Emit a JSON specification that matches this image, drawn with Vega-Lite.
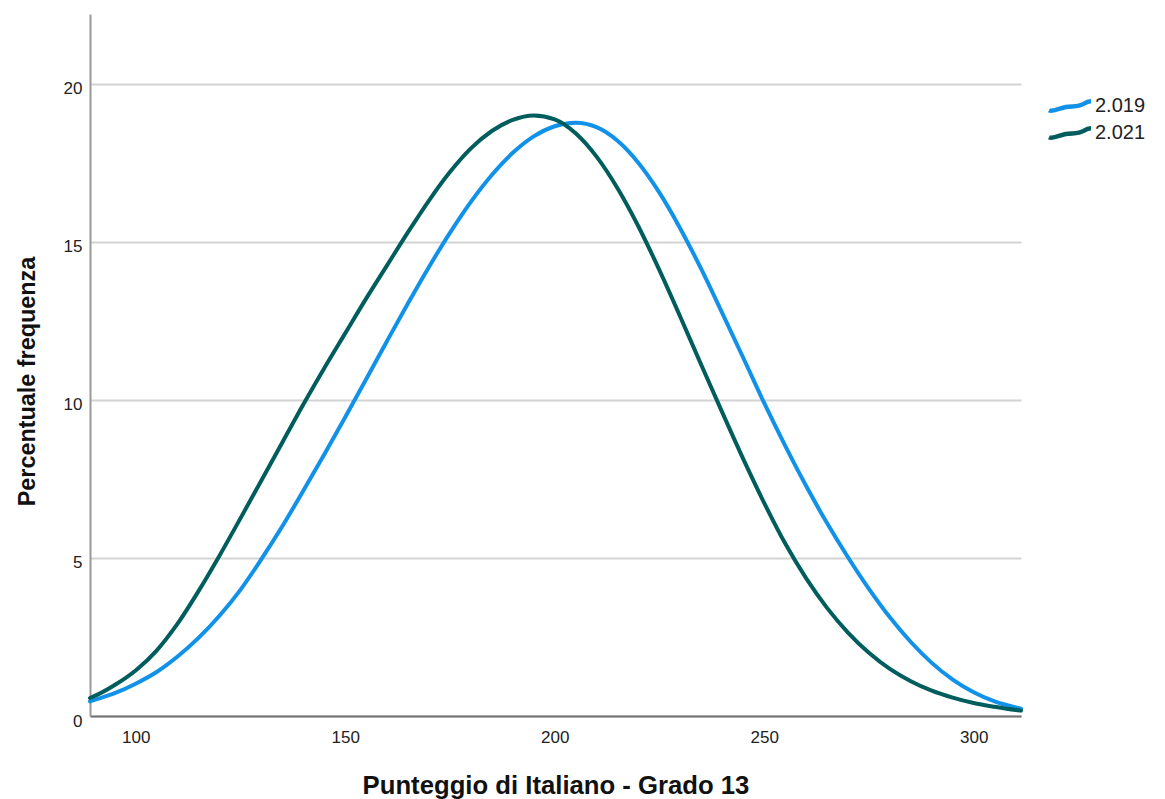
{
  "$schema": "https://vega.github.io/schema/vega-lite/v6.json",
  "width": 931,
  "height": 702,
  "autosize": "none",
  "padding": {"left": 90, "top": 14, "right": 144, "bottom": 83},
  "background": "white",
  "config": {
    "view": {"stroke": null},
    "font": "Liberation Sans"
  },
  "data": {
    "values": [
      {"x": 89.1, "v": 0.46, "year": "2.019"},
      {"x": 90, "v": 0.50, "year": "2.019"},
      {"x": 95, "v": 0.72, "year": "2.019"},
      {"x": 100, "v": 1.02, "year": "2.019"},
      {"x": 105, "v": 1.39, "year": "2.019"},
      {"x": 110, "v": 1.88, "year": "2.019"},
      {"x": 115, "v": 2.47, "year": "2.019"},
      {"x": 120, "v": 3.17, "year": "2.019"},
      {"x": 125, "v": 3.99, "year": "2.019"},
      {"x": 130, "v": 4.96, "year": "2.019"},
      {"x": 135, "v": 6.00, "year": "2.019"},
      {"x": 140, "v": 7.12, "year": "2.019"},
      {"x": 145, "v": 8.27, "year": "2.019"},
      {"x": 150, "v": 9.45, "year": "2.019"},
      {"x": 155, "v": 10.65, "year": "2.019"},
      {"x": 160, "v": 11.86, "year": "2.019"},
      {"x": 165, "v": 13.05, "year": "2.019"},
      {"x": 170, "v": 14.20, "year": "2.019"},
      {"x": 175, "v": 15.28, "year": "2.019"},
      {"x": 180, "v": 16.26, "year": "2.019"},
      {"x": 185, "v": 17.11, "year": "2.019"},
      {"x": 190, "v": 17.81, "year": "2.019"},
      {"x": 195, "v": 18.33, "year": "2.019"},
      {"x": 200, "v": 18.65, "year": "2.019"},
      {"x": 205, "v": 18.76, "year": "2.019"},
      {"x": 210, "v": 18.62, "year": "2.019"},
      {"x": 215, "v": 18.19, "year": "2.019"},
      {"x": 220, "v": 17.49, "year": "2.019"},
      {"x": 225, "v": 16.55, "year": "2.019"},
      {"x": 230, "v": 15.41, "year": "2.019"},
      {"x": 235, "v": 14.13, "year": "2.019"},
      {"x": 240, "v": 12.74, "year": "2.019"},
      {"x": 245, "v": 11.33, "year": "2.019"},
      {"x": 250, "v": 9.90, "year": "2.019"},
      {"x": 255, "v": 8.55, "year": "2.019"},
      {"x": 260, "v": 7.28, "year": "2.019"},
      {"x": 265, "v": 6.10, "year": "2.019"},
      {"x": 270, "v": 5.02, "year": "2.019"},
      {"x": 275, "v": 4.02, "year": "2.019"},
      {"x": 280, "v": 3.12, "year": "2.019"},
      {"x": 285, "v": 2.34, "year": "2.019"},
      {"x": 290, "v": 1.68, "year": "2.019"},
      {"x": 295, "v": 1.15, "year": "2.019"},
      {"x": 300, "v": 0.75, "year": "2.019"},
      {"x": 305, "v": 0.46, "year": "2.019"},
      {"x": 310, "v": 0.27, "year": "2.019"},
      {"x": 311.3, "v": 0.23, "year": "2.019"},
      {"x": 89.1, "v": 0.57, "year": "2.021"},
      {"x": 90, "v": 0.62, "year": "2.021"},
      {"x": 95, "v": 0.98, "year": "2.021"},
      {"x": 100, "v": 1.44, "year": "2.021"},
      {"x": 105, "v": 2.07, "year": "2.021"},
      {"x": 110, "v": 2.92, "year": "2.021"},
      {"x": 115, "v": 3.95, "year": "2.021"},
      {"x": 120, "v": 5.07, "year": "2.021"},
      {"x": 125, "v": 6.25, "year": "2.021"},
      {"x": 130, "v": 7.45, "year": "2.021"},
      {"x": 135, "v": 8.65, "year": "2.021"},
      {"x": 140, "v": 9.85, "year": "2.021"},
      {"x": 145, "v": 11.0, "year": "2.021"},
      {"x": 150, "v": 12.1, "year": "2.021"},
      {"x": 155, "v": 13.2, "year": "2.021"},
      {"x": 160, "v": 14.25, "year": "2.021"},
      {"x": 165, "v": 15.3, "year": "2.021"},
      {"x": 170, "v": 16.3, "year": "2.021"},
      {"x": 175, "v": 17.2, "year": "2.021"},
      {"x": 180, "v": 17.95, "year": "2.021"},
      {"x": 185, "v": 18.5, "year": "2.021"},
      {"x": 190, "v": 18.85, "year": "2.021"},
      {"x": 195, "v": 18.99, "year": "2.021"},
      {"x": 200, "v": 18.87, "year": "2.021"},
      {"x": 205, "v": 18.43, "year": "2.021"},
      {"x": 210, "v": 17.69, "year": "2.021"},
      {"x": 215, "v": 16.69, "year": "2.021"},
      {"x": 220, "v": 15.48, "year": "2.021"},
      {"x": 225, "v": 14.10, "year": "2.021"},
      {"x": 230, "v": 12.62, "year": "2.021"},
      {"x": 235, "v": 11.10, "year": "2.021"},
      {"x": 240, "v": 9.60, "year": "2.021"},
      {"x": 245, "v": 8.13, "year": "2.021"},
      {"x": 250, "v": 6.74, "year": "2.021"},
      {"x": 255, "v": 5.46, "year": "2.021"},
      {"x": 260, "v": 4.36, "year": "2.021"},
      {"x": 265, "v": 3.42, "year": "2.021"},
      {"x": 270, "v": 2.64, "year": "2.021"},
      {"x": 275, "v": 2.00, "year": "2.021"},
      {"x": 280, "v": 1.49, "year": "2.021"},
      {"x": 285, "v": 1.10, "year": "2.021"},
      {"x": 290, "v": 0.80, "year": "2.021"},
      {"x": 295, "v": 0.58, "year": "2.021"},
      {"x": 300, "v": 0.41, "year": "2.021"},
      {"x": 305, "v": 0.29, "year": "2.021"},
      {"x": 310, "v": 0.19, "year": "2.021"},
      {"x": 311.3, "v": 0.17, "year": "2.021"}
    ]
  },
  "mark": {"type": "line", "strokeWidth": 4, "interpolate": "monotone", "strokeCap": "round"},
  "encoding": {
    "x": {
      "field": "x",
      "type": "quantitative",
      "scale": {"domain": [89.1, 311.3], "nice": false, "zero": false},
      "axis": {
        "values": [100, 150, 200, 250, 300],
        "title": "Punteggio di Italiano - Grado 13",
        "titleFont": "Liberation Sans",
        "titleFontSize": 25.7,
        "titleFontWeight": "bold",
        "titleColor": "#111111",
        "titleBaseline": "alphabetic",
        "titleY": 77,
        "labelFont": "Liberation Sans",
        "labelFontSize": 17,
        "labelColor": "#222222",
        "labelPadding": 13,
        "labelBaseline": "top",
        "ticks": false,
        "grid": false,
        "domainColor": "#707070",
        "domainWidth": 2
      }
    },
    "y": {
      "field": "v",
      "type": "quantitative",
      "scale": {"domain": [0, 22.2], "nice": false},
      "axis": {
        "values": [0, 5, 10, 15, 20],
        "title": "Percentuale frequenza",
        "titleFont": "Liberation Sans",
        "titleFontSize": 23.4,
        "titleFontWeight": "bold",
        "titleColor": "#111111",
        "titleAngle": -90,
        "titleAlign": "center",
        "titleBaseline": "alphabetic",
        "titleX": -56,
        "titleY": 367,
        "labelFont": "Liberation Sans",
        "labelFontSize": 17,
        "labelColor": "#222222",
        "labelPadding": 8,
        "labelOffset": 5,
        "ticks": false,
        "grid": true,
        "gridColor": "#d3d3d3",
        "gridWidth": 2,
        "domainColor": "#999999",
        "domainWidth": 2
      }
    },
    "color": {
      "field": "year",
      "type": "nominal",
      "scale": {"domain": ["2.019", "2.021"], "range": ["#1192e8", "#005d5d"]},
      "legend": {
        "title": null,
        "orient": "none",
        "legendX": 967,
        "legendY": 79,
        "padding": 0,
        "symbolType": "M-2,0.4 C-1.6,0.6 -1.0,0.2 -0.4,0.1 C0.3,0 0.8,0.1 1.3,-0.2 C1.6,-0.4 1.8,-0.45 2,-0.45",
        "symbolSize": 441,
        "symbolStrokeWidth": 4.5,
        "symbolFillColor": "transparent",
        "labelFont": "Liberation Sans",
        "labelFontSize": 20,
        "labelColor": "#222222",
        "labelOffset": 12,
        "rowPadding": -1
      }
    }
  }
}
